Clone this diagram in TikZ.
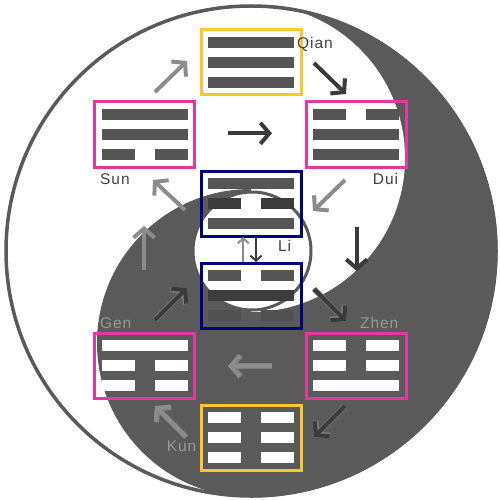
\documentclass[tikz,border=0pt]{standalone}
\usepackage{fontspec}
\newfontfamily\lblfont[LetterSpace=6]{Liberation Sans}
\usetikzlibrary{arrows.meta, calc}

\definecolor{yindark}{HTML}{5A5A5A}
\definecolor{barcol}{HTML}{555555}
\definecolor{bardeep}{HTML}{3C3C3C}
\definecolor{barlow}{HTML}{515151}
\definecolor{arrlight}{HTML}{8C8C8C}
\definecolor{arrdark}{HTML}{3A3A3A}
\definecolor{arrhalo}{HTML}{7E7E7E}
\definecolor{goldbox}{HTML}{FFC72C}
\definecolor{pinkbox}{HTML}{DD3C9E}
\definecolor{navybox}{HTML}{000080}
\definecolor{txtdark}{HTML}{404040}
\definecolor{txtlight}{HTML}{979797}

\tikzset{
  tribox/.style={draw=#1, line width=3pt, minimum width=100pt, minimum height=65pt, inner sep=0pt},
  lbl/.style={font=\lblfont\fontsize{15.5}{16}\selectfont, inner sep=0pt, anchor=base west, text=#1},
  arr/.style={draw=#1, line width=4pt, -{Straight Barb[length=9pt, width=21pt]}},
  thinarr/.style={draw=#1, line width=2pt, -{Straight Barb[length=5pt, width=11pt]}},
  halo/.style={preaction={draw=arrhalo, line width=5.5pt}},
}

% one trigram: #1 box node, #2 list of kind/colour (1 = whole line, 0 = broken line), top first
\newcommand{\trigram}[2]{%
  \foreach \k/\c [count=\i] in {#2}{
    \pgfmathsetmacro\yy{20*(\i-2)-5.5}
    \ifnum\k=1
      \fill[\c] ($(#1)+(-43,\yy)$) rectangle ++(86,11);
    \else
      \fill[\c] ($(#1)+(-43,\yy)$) rectangle ++(33,11);
      \fill[\c] ($(#1)+(10,\yy)$) rectangle ++(33,11);
    \fi}}

\begin{document}
\begin{tikzpicture}[x=1pt, y=-1pt]
  \useasboundingbox (0,0) rectangle (500,500);
  % yin and yang
  \begin{scope}
    \clip (251,0) rectangle (500,500);
    \fill[yindark] (251,251) circle (246.5);
  \end{scope}
  \fill[white] (251,158) circle (154);
  \begin{scope}
    \clip (0,0) rectangle (251,500);
    \fill[yindark] (251,343) circle (154);
  \end{scope}
  \draw[yindark, line width=3.5pt] (251,251) circle (245);
  \draw[yindark, line width=3pt, fill=white] (252,251) circle (59);

  % the eight boxes
  \node[tribox=goldbox] (qian) at (251,62.2) {};
  \node[tribox=pinkbox] (sun)  at (144.7,134.5) {};
  \node[tribox=pinkbox] (dui)  at (356,134.5) {};
  \node[tribox=navybox] (li)   at (251,203.7) {};
  \node[tribox=navybox] (kan)  at (251,295.5) {};
  \node[tribox=pinkbox] (gen)  at (144.7,365.5) {};
  \node[tribox=pinkbox] (zhen) at (356,365.5) {};
  \node[tribox=goldbox] (kun)  at (251,437.8) {};

  \trigram{qian}{1/barcol,1/barcol,1/barcol}
  \trigram{sun}{1/barcol,1/barcol,0/barcol}
  \trigram{dui}{0/barcol,1/barcol,1/barcol}
  \trigram{li}{1/barcol,0/bardeep,1/barcol}
  \trigram{kan}{0/barcol,1/bardeep,0/barlow}
  \trigram{gen}{1/white,0/white,0/white}
  \trigram{zhen}{0/white,0/white,1/white}
  \trigram{kun}{0/white,0/white,0/white}

  % labels
  \node[lbl=txtdark]  (lqian) at (297,49) {Qian};
  \node[lbl=txtdark]  (lsun)  at (100,184) {Sun};
  \node[lbl=txtdark]  (ldui)  at (372.7,184) {Dui};
  \node[lbl=txtdark]  (lli)   at (278,251.7) {Li};
  \node[lbl=txtlight] (lgen)  at (100,328.3) {Gen};
  \node[lbl=txtlight] (lzhen) at (360,328.3) {Zhen};
  \node[lbl=txtlight] (lkun)  at (166.7,451.7) {Kun};

  % arrow ends
  \coordinate (a1)  at (155,92);     \coordinate (b1)  at (187,61);
  \coordinate (a2)  at (314,63);     \coordinate (b2)  at (346,94);
  \coordinate (a3)  at (228,133.3);  \coordinate (b3)  at (272,133.3);
  \coordinate (a4)  at (345,180);    \coordinate (b4)  at (313,211);
  \coordinate (a5)  at (185,210);    \coordinate (b5)  at (153,180);
  \coordinate (a6)  at (144,270);    \coordinate (b6)  at (144,226);
  \coordinate (a7)  at (356.7,227);  \coordinate (b7)  at (356.7,271);
  \coordinate (a8)  at (243.3,262);  \coordinate (b8)  at (243.3,237);
  \coordinate (a9)  at (256,237);    \coordinate (b9)  at (256,262);
  \coordinate (a10) at (314,289);    \coordinate (b10) at (346,321);
  \coordinate (a11) at (155,320);    \coordinate (b11) at (187,288);
  \coordinate (a12) at (272,366);    \coordinate (b12) at (228,366);
  \coordinate (a13) at (345,406);    \coordinate (b13) at (314,437);
  \coordinate (a14) at (186,437);    \coordinate (b14) at (155,406);

  \draw[arr=arrlight] (a1) -- (b1);
  \draw[arr=arrdark]  (a2) -- (b2);
  \draw[arr=arrdark]  (a3) -- (b3);
  \draw[arr=arrlight] (a4) -- (b4);
  \draw[arr=arrlight] (a5) -- (b5);
  \draw[arr=arrlight] (a6) -- (b6);
  \draw[arr=arrdark]  (a7) -- (b7);
  \draw[thinarr=arrlight] (a8) -- (b8);
  \draw[thinarr=arrdark]  (a9) -- (b9);
  \draw[arr=arrdark, halo]  (a10) -- (b10);
  \draw[arr=arrdark, halo]  (a11) -- (b11);
  \draw[arr=arrlight, halo] (a12) -- (b12);
  \draw[arr=arrdark, halo]  (a13) -- (b13);
  \draw[arr=arrlight, halo] (a14) -- (b14);
\end{tikzpicture}
\end{document}
